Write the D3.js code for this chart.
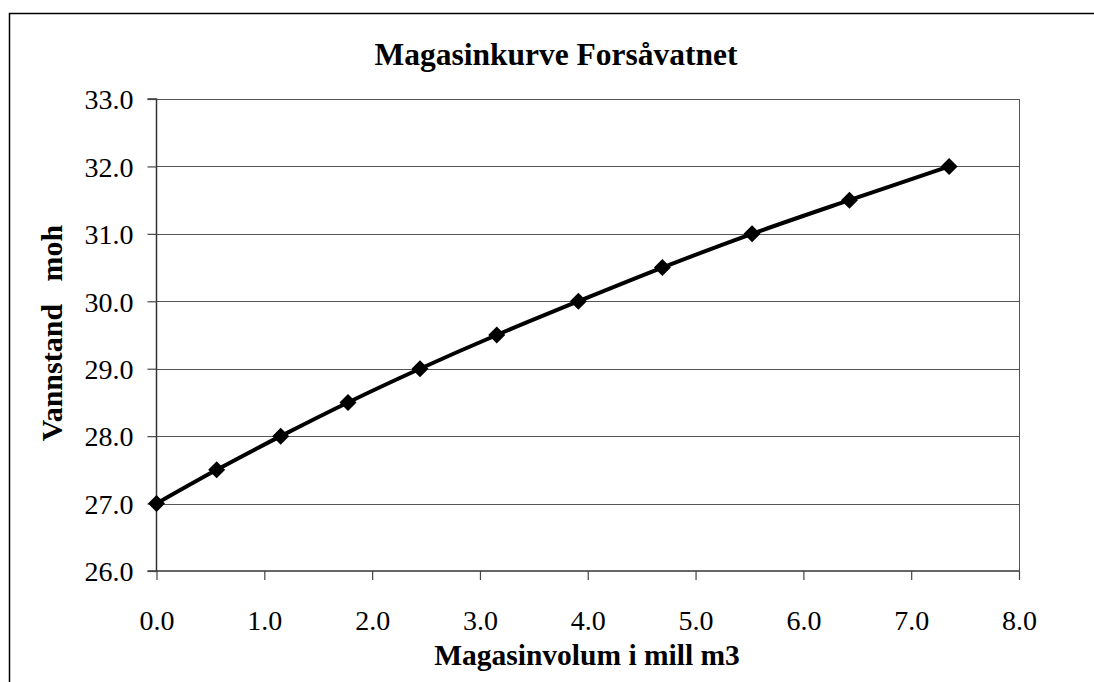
<!DOCTYPE html>
<html>
<head>
<meta charset="utf-8">
<script src="https://cdn.jsdelivr.net/npm/d3@7"></script>
<style>
  html, body { margin: 0; padding: 0; background: #fff; }
  svg text { font-family: "Liberation Serif", "Times New Roman", serif; fill: #000; }
</style>
</head>
<body>
<svg id="chart" width="1094" height="682"></svg>
<script>
// magasinvolum (mill m3) vs vannstand (moh)
const volum = [0.0, 0.558, 1.152, 1.776, 2.444, 3.156, 3.913, 4.692, 5.524, 6.427, 7.352];
const vannstand = [27.0, 27.5, 28.0, 28.5, 29.0, 29.5, 30.0, 30.5, 31.0, 31.5, 32.0];
const xTicks = [0, 1, 2, 3, 4, 5, 6, 7, 8];
const yTicks = [26, 27, 28, 29, 30, 31, 32, 33];

const svg = d3.select("#chart");
const L = 156.5, R = 1019, T = 99, B = 571;
const SERIF = "'Liberation Serif', 'Times New Roman', serif";

// outer chart frame (runs past the right/bottom edge)
svg.append("path").attr("d", "M9.5,682 L9.5,13.5 L1094,13.5")
    .attr("fill", "none").attr("stroke", "#000").attr("stroke-width", 1.5);

const x = d3.scaleLinear().domain([0, 8]).range([L, R]);
const y = d3.scaleLinear().domain([26, 33]).range([B, T]);

// gridlines
svg.append("g").selectAll("line").data(yTicks.slice(1)).join("line")
    .attr("x1", L).attr("x2", R).attr("y1", d => Math.round(y(d)) + 0.5).attr("y2", d => Math.round(y(d)) + 0.5)
    .attr("stroke", "#555").attr("stroke-width", 1);
svg.append("line").attr("x1", R + 0.5).attr("x2", R + 0.5).attr("y1", T).attr("y2", B)
    .attr("stroke", "#555");

const yAxis = svg.append("g").attr("transform", `translate(${L},0)`)
    .call(d3.axisLeft(y).tickValues(yTicks).tickFormat(d3.format(".1f")).tickSize(9).tickPadding(14));
const xAxis = svg.append("g").attr("transform", `translate(0,${B})`)
    .call(d3.axisBottom(x).tickValues(xTicks).tickFormat(d3.format(".1f")).tickSize(9));
[yAxis, xAxis].forEach(a => {
    a.attr("font-family", null).attr("font-size", null);
    a.select(".domain").attr("stroke", "#333").attr("stroke-width", 1.5);
    a.selectAll(".tick line").attr("stroke", "#444").attr("stroke-width", 1.2);
    a.selectAll("text").style("font-size", "28px").style("font-family", SERIF);
});
yAxis.select(".domain").attr("d", `M-9,${B}H0V${T}H-9`);
yAxis.selectAll(".tick text").attr("dy", "0.35em");
xAxis.select(".domain").attr("d", `M${L},0H${R}`);
xAxis.selectAll(".tick text").attr("y", 59).attr("dy", 0);

const pts = volum.map((v, i) => [v, vannstand[i]]);
svg.append("path").datum(pts)
    .attr("fill", "none").attr("stroke", "#000").attr("stroke-width", 4)
    .attr("d", d3.line().x(d => x(d[0])).y(d => y(d[1])).curve(d3.curveCatmullRom));

svg.append("g").selectAll("path").data(pts).join("path")
    .attr("transform", d => `translate(${x(d[0])},${y(d[1])})`)
    .attr("d", "M0,-8.5L8.5,0L0,8.5L-8.5,0Z").attr("fill", "#000");

svg.append("text").attr("x", 556).attr("y", 65).attr("text-anchor", "middle")
    .style("font-size", "31.5px").style("font-weight", "bold").text("Magasinkurve Forsåvatnet");
svg.append("text").attr("x", 587).attr("y", 665).attr("text-anchor", "middle")
    .style("font-size", "29.5px").style("font-weight", "bold").text("Magasinvolum i mill m3");
svg.append("text").attr("transform", "translate(62,333) rotate(-90)").attr("text-anchor", "middle")
    .style("font-size", "30px").style("font-weight", "bold").style("white-space", "pre")
    .attr("xml:space", "preserve").text("Vannstand   moh");
</script>
</body>
</html>
